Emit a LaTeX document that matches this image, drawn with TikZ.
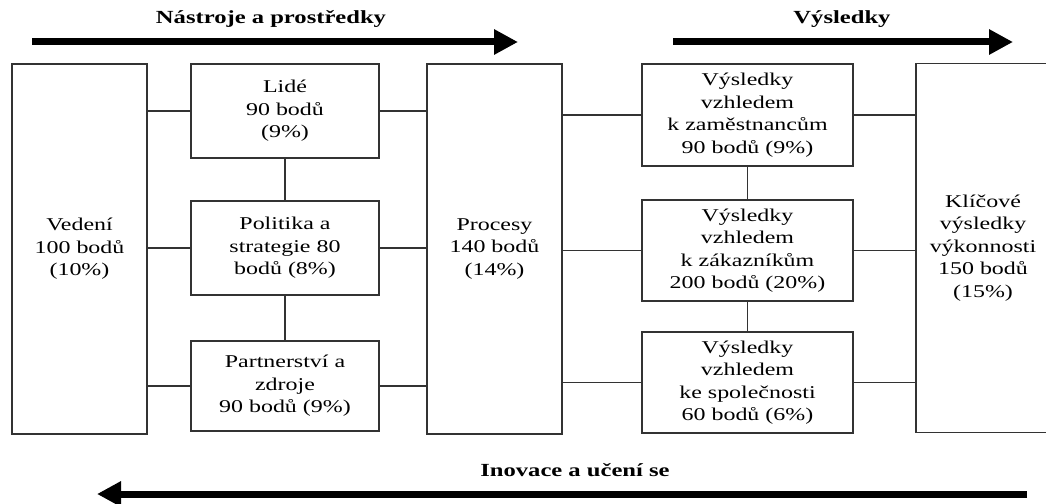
\documentclass[tikz,border=0pt]{standalone}
\usepackage{fontspec}
\setmainfont{Liberation Serif}[FakeStretch=1.33]
\usepackage{tikz}
\usetikzlibrary{arrows.meta, positioning, calc}
\definecolor{edge}{gray}{0.2}
\tikzstyle{box} = [draw=edge, rectangle, line width=1.8pt, align=center, inner sep=2pt]
\tikzstyle{link} = [draw=edge, line width=1.8pt]
\tikzstyle{flow} = [line width=7pt, -{Triangle[length=24pt, width=24pt]}]
\tikzstyle{head} = [font=\fontsize{18.5}{22}\selectfont\bfseries]

\begin{document}
\begin{tikzpicture}[x=1pt, y=-1pt, font=\fontsize{18}{22.5}\selectfont]
    \useasboundingbox (0,0) rectangle (1046,503);

    % tall blocks
    \node[box, minimum width=135pt, minimum height=370pt] (ved) at (79.5,249)
    {Vedení\\100 bodů\\(10\%)};
    \node[box, minimum width=135pt, minimum height=370pt] (proc) at (494.5,249)
    {Procesy\\140 bodů\\(14\%)};
    \node[box, minimum width=134pt, minimum height=369pt] (klic) at (983,248)
    {Klíčové\\výsledky\\výkonnosti\\150 bodů\\(15\%)};

    % enablers
    \node[box, minimum width=188pt, minimum height=94pt] (lide) at (285,111)
    {Lidé\\90 bodů\\(9\%)};
    \node[box, minimum width=188pt, minimum height=94pt] (pol) at (285,248)
    {Politika a\\strategie 80\\bodů (8\%)};
    \node[box, minimum width=188pt, minimum height=90pt] (part) at (285,386)
    {Partnerství a\\zdroje\\90 bodů (9\%)};

    % results
    \node[box, minimum width=211pt, minimum height=102pt] (vzam) at (747.5,115)
    {Výsledky\\vzhledem\\k zaměstnancům\\90 bodů (9\%)};
    \node[box, minimum width=211pt, minimum height=101pt] (vzak) at (747.5,250.5)
    {Výsledky\\vzhledem\\k zákazníkům\\200 bodů (20\%)};
    \node[box, minimum width=211pt, minimum height=101pt] (vspol) at (747.5,382.5)
    {Výsledky\\vzhledem\\ke společnosti\\60 bodů (6\%)};

    % links
    \draw[link] (ved.east |- lide) -- (lide.west);
    \draw[link] (ved.east |- pol) -- (pol.west);
    \draw[link] (ved.east |- part) -- (part.west);
    \draw[link] (lide.east) -- (lide.east -| proc.west);
    \draw[link] (pol.east) -- (pol.east -| proc.west);
    \draw[link] (part.east) -- (part.east -| proc.west);
    \draw[link] (lide) -- (pol);
    \draw[link] (pol) -- (part);
    \draw[link] (proc.east |- vzam) -- (vzam.west);
    \draw[link] (proc.east |- vzak) -- (vzak.west);
    \draw[link] (proc.east |- vspol) -- (vspol.west);
    \draw[link] (vzam) -- (vzak);
    \draw[link] (vzak) -- (vspol);
    \draw[link] (vzam.east) -- (vzam.east -| klic.west);
    \draw[link] (vzak.east) -- (vzak.east -| klic.west);
    \draw[link] (vspol.east) -- (vspol.east -| klic.west);

    % flows
    \coordinate (tools0) at (32,42);
    \coordinate (tools1) at (518,42);
    \draw[flow] (tools0) -- (tools1);
    \node[head] (tools) at (271,19) {Nástroje a prostředky};

    \coordinate (res0) at (673,42);
    \coordinate (res1) at (1013,42);
    \draw[flow] (res0) -- (res1);
    \node[head] (res) at (842,19) {Výsledky};

    \coordinate (learn0) at (1027,494);
    \coordinate (learn1) at (97,494);
    \draw[flow] (learn0) -- (learn1);
    \node[head] (learn) at (575,470) {Inovace a učení se};
\end{tikzpicture}
\end{document}
